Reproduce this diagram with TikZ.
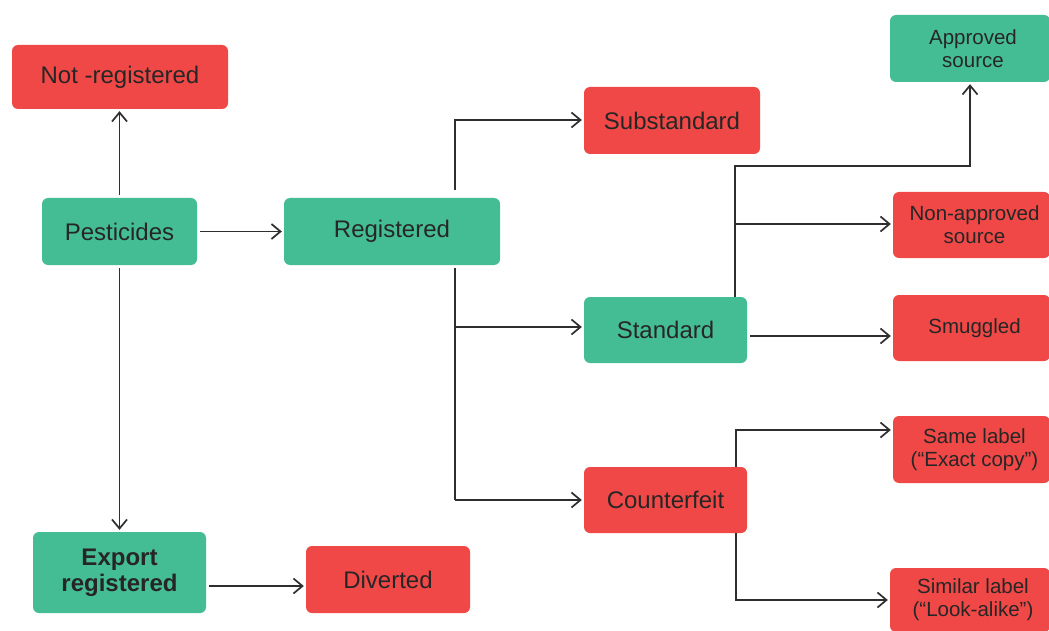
\documentclass[tikz,border=0pt]{standalone}
\usepackage{fontspec}
\setmainfont{Liberation Sans}
\usetikzlibrary{arrows.meta}
\definecolor{okgreen}{HTML}{45BD94}
\definecolor{badred}{HTML}{EF4846}
\definecolor{ink}{HTML}{262626}
\definecolor{wirecol}{HTML}{2E2E2E}

\begin{document}
\begin{tikzpicture}[x=1pt,y=-1pt,
  box/.style={rounded corners=6pt, text=ink, align=center, inner sep=0pt,
    font=\fontsize{24}{26}\selectfont},
  good/.style={box, fill=okgreen},
  bad/.style={box, fill=badred},
  small/.style={font=\fontsize{20.5}{23}\selectfont},
  wire/.style={draw=wirecol, line width=1.7pt},
  link/.style={wire, -{Straight Barb[length=9pt,width=15pt,line width=1.7pt]}, shorten >=2pt},
  gap/.style={shorten <=3pt}]
\useasboundingbox[fill=white] (0,0) rectangle (1049,631);
\clip (0,0) rectangle (1049,631);

% left column
\node[bad, minimum width=216pt, minimum height=64pt] (notreg) at (120,77) {Not -registered};
\node[good, minimum width=155pt, minimum height=67pt] (pest) at (119.5,231.5) {Pesticides};
\node[good, minimum width=173pt, minimum height=81pt, font=\fontsize{24}{26}\selectfont\bfseries] (export) at (119.5,572.5) {Export\\registered};
\node[bad, minimum width=164pt, minimum height=67pt] (div) at (388,579.5) {Diverted};

% middle columns
\node[good, minimum width=216pt, minimum height=67pt] (reg) at (392,231.5) {Registered};
\node[bad, minimum width=176pt, minimum height=67pt] (sub) at (672,120.5) {Substandard};
\node[good, minimum width=163pt, minimum height=66pt] (std) at (665.5,330) {Standard};
\node[bad, minimum width=163pt, minimum height=66pt] (cf) at (665.5,500) {Counterfeit};

% right column (text sits a little right of centre)
\node[good, small, minimum width=160pt, minimum height=67pt] (appr) at (970,48.5) {\hspace*{6pt}Approved\\\hspace*{6pt}source};
\node[bad, small, minimum width=157pt, minimum height=66pt] (nonappr) at (971.5,225) {\hspace*{6pt}Non-approved\\\hspace*{6pt}source};
\node[bad, small, minimum width=157pt, minimum height=66pt] (smug) at (971.5,328) {\hspace*{6pt}Smuggled};
\node[bad, small, minimum width=157pt, minimum height=67pt] (same) at (971.5,449.5) {\hspace*{6pt}Same label\\\hspace*{6pt}(“Exact copy”)};
\node[bad, small, minimum width=160pt, minimum height=64pt] (sim) at (970,600) {\hspace*{6pt}Similar label\\\hspace*{6pt}(“Look-alike”)};

% bend and junction points
\coordinate (exy) at (0,586);
\coordinate (rtop) at (455,120);
\coordinate (rmid) at (455,327);
\coordinate (rbot) at (455,500);
\coordinate (s1) at (735,166);
\coordinate (s2) at (970,166);
\coordinate (s3) at (735,224);
\coordinate (s4) at (0,336);
\coordinate (c1) at (736,430);
\coordinate (c2) at (736,600);

% Pesticides
\draw[link, gap] (pest.north) -- (notreg.south -| pest.north);
\draw[link, gap] (pest.east) -- (reg.west |- pest.east);
\draw[link, gap] (pest.south) -- (export.north);
\draw[link, gap] (export.east |- exy) -- (div.west |- exy);

% Registered
\draw[link] ([yshift=8pt]reg.north -| rtop) -- (rtop) -- (sub.west |- rtop);
\draw[wire, gap] (reg.south -| rbot) -- (rbot);
\draw[link] (rmid) -- (std.west |- rmid);
\draw[link] (rbot) -- (cf.west |- rbot);

% Standard
\draw[link] (std.north -| s1) -- (s1) -- (s2) -- (appr.south -| s2);
\draw[link] (s3) -- (nonappr.west |- s3);
\draw[link, gap] (std.east |- s4) -- (smug.west |- s4);

% Counterfeit
\draw[link] (cf.north -| c1) -- (c1) -- (same.west |- c1);
\draw[link] (cf.south -| c2) -- (c2) -- (sim.west |- c2);
\end{tikzpicture}
\end{document}
